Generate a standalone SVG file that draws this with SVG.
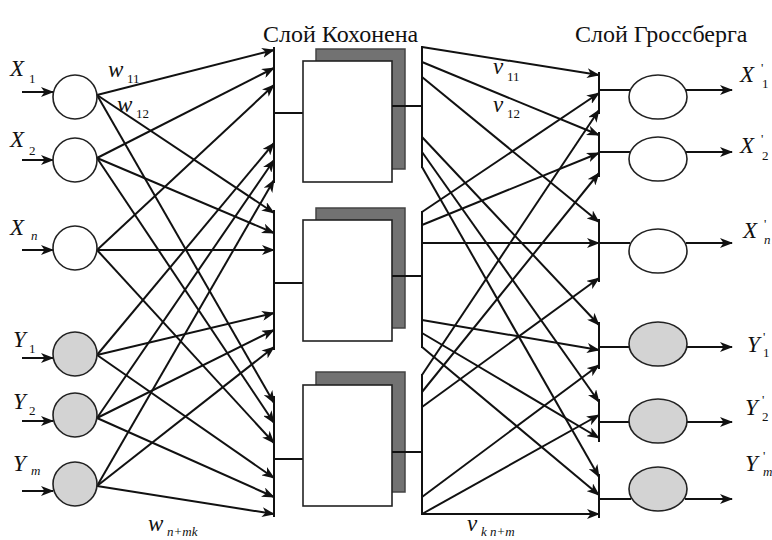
<svg xmlns="http://www.w3.org/2000/svg" width="772" height="540" viewBox="0 0 772 540">
<style>
.bg{fill:#ffffff}
.c{stroke:#111;stroke-width:2;fill:none}
.a{stroke:#111;stroke-width:2;fill:none;marker-end:url(#ah)}
.bus{stroke:#111;stroke-width:2;fill:none}
.nw{fill:#ffffff;stroke:#222;stroke-width:1.6}
.ng{fill:#d3d3d3;stroke:#222;stroke-width:1.6}
.sh{fill:#727272;stroke:#444;stroke-width:1.5}
.bx{fill:#ffffff;stroke:#222;stroke-width:1.6}
.v{font-family:"Liberation Serif",serif;font-style:italic;font-size:23px;fill:#111}
.s{font-family:"Liberation Serif",serif;font-size:13px;fill:#111}
.si{font-family:"Liberation Serif",serif;font-style:italic;font-size:13px;fill:#111}
.t{font-family:"Liberation Serif","Noto Serif",serif;font-size:24px;fill:#111}
</style>
<defs>
<marker id="ah" viewBox="0 0 13 10" refX="12" refY="5" markerWidth="13" markerHeight="10" markerUnits="userSpaceOnUse" orient="auto">
<path d="M0,0 L13,5 L0,10 L3.5,5 z" fill="#111"/>
</marker>
</defs>
<rect class="bg" x="0" y="0" width="772" height="540"/>

<text class="t" x="263" y="42">Слой Кохонена</text>
<text class="t" x="575" y="42">Слой Гроссберга</text>

<g id="connectors">
<!-- input arrows -->
<line class="a" x1="22" y1="92" x2="53" y2="92"/>
<line class="a" x1="22" y1="160" x2="53" y2="160"/>
<line class="a" x1="22" y1="250" x2="53" y2="250"/>
<line class="a" x1="22" y1="358" x2="53" y2="358"/>
<line class="a" x1="22" y1="421" x2="53" y2="421"/>
<line class="a" x1="22" y1="491" x2="53" y2="491"/>
<!-- input -> Kohonen 1 -->
<line class="a" x1="97" y1="95" x2="274" y2="50"/>
<line class="a" x1="97" y1="158" x2="274" y2="68"/>
<line class="a" x1="97" y1="250" x2="274" y2="85"/>
<line class="a" x1="97" y1="355" x2="274" y2="143"/>
<line class="a" x1="97" y1="418" x2="274" y2="160"/>
<line class="a" x1="97" y1="486" x2="274" y2="180"/>
<!-- input -> Kohonen 2 -->
<line class="a" x1="97" y1="95" x2="274" y2="213"/>
<line class="a" x1="97" y1="158" x2="274" y2="233"/>
<line class="a" x1="97" y1="250" x2="274" y2="250"/>
<line class="a" x1="97" y1="355" x2="274" y2="313"/>
<line class="a" x1="97" y1="418" x2="274" y2="330"/>
<line class="a" x1="97" y1="486" x2="274" y2="347"/>
<!-- input -> Kohonen 3 -->
<line class="a" x1="97" y1="95" x2="274" y2="403"/>
<line class="a" x1="97" y1="158" x2="274" y2="423"/>
<line class="a" x1="97" y1="250" x2="274" y2="443"/>
<line class="a" x1="97" y1="355" x2="274" y2="478"/>
<line class="a" x1="97" y1="418" x2="274" y2="497"/>
<line class="a" x1="97" y1="486" x2="274" y2="514"/>
<!-- Kohonen left buses -->
<line class="bus" x1="274" y1="47" x2="274" y2="183"/>
<line class="bus" x1="274" y1="210" x2="274" y2="350"/>
<line class="bus" x1="274" y1="396" x2="274" y2="517"/>
<line class="c" x1="274" y1="113" x2="303" y2="113"/>
<line class="c" x1="274" y1="283" x2="303" y2="283"/>
<line class="c" x1="274" y1="459" x2="303" y2="459"/>
<!-- Kohonen right buses -->
<line class="bus" x1="422" y1="46" x2="422" y2="168"/>
<line class="bus" x1="422" y1="211" x2="422" y2="348"/>
<line class="bus" x1="422" y1="374" x2="422" y2="515"/>
<!-- Kohonen 1 -> Grossberg -->
<line class="a" x1="422" y1="47" x2="599" y2="75"/>
<line class="a" x1="422" y1="62" x2="599" y2="135"/>
<line class="a" x1="422" y1="77" x2="599" y2="222"/>
<line class="a" x1="422" y1="137" x2="599" y2="325"/>
<line class="a" x1="422" y1="152" x2="599" y2="402"/>
<line class="a" x1="422" y1="167" x2="599" y2="477"/>
<!-- Kohonen 2 -> Grossberg -->
<line class="a" x1="422" y1="212" x2="599" y2="93"/>
<line class="a" x1="422" y1="225" x2="599" y2="153"/>
<line class="a" x1="422" y1="243" x2="599" y2="243"/>
<line class="a" x1="422" y1="320" x2="599" y2="350"/>
<line class="a" x1="422" y1="333" x2="599" y2="438"/>
<line class="a" x1="422" y1="347" x2="599" y2="495"/>
<!-- Kohonen 3 -> Grossberg -->
<line class="a" x1="422" y1="375" x2="599" y2="110"/>
<line class="a" x1="422" y1="392" x2="599" y2="173"/>
<line class="a" x1="422" y1="407" x2="599" y2="278"/>
<line class="a" x1="422" y1="497" x2="599" y2="365"/>
<line class="a" x1="422" y1="514" x2="599" y2="415"/>
<line class="a" x1="422" y1="514" x2="599" y2="514"/>
<!-- Grossberg buses -->
<line class="bus" x1="599" y1="72" x2="599" y2="114"/>
<line class="bus" x1="599" y1="132" x2="599" y2="177"/>
<line class="bus" x1="599" y1="219" x2="599" y2="282"/>
<line class="bus" x1="599" y1="322" x2="599" y2="369"/>
<line class="bus" x1="599" y1="399" x2="599" y2="442"/>
<line class="bus" x1="599" y1="474" x2="599" y2="518"/>
<line class="c" x1="599" y1="90" x2="631" y2="90"/>
<line class="c" x1="599" y1="152" x2="631" y2="152"/>
<line class="c" x1="599" y1="243" x2="630" y2="243"/>
<line class="c" x1="599" y1="347" x2="630" y2="347"/>
<line class="c" x1="599" y1="422" x2="629" y2="422"/>
<line class="c" x1="599" y1="499" x2="631" y2="499"/>
<!-- output arrows -->
<line class="a" x1="685" y1="90" x2="732" y2="90"/>
<line class="a" x1="685" y1="152" x2="732" y2="152"/>
<line class="a" x1="686" y1="243" x2="732" y2="243"/>
<line class="a" x1="686" y1="347" x2="732" y2="347"/>
<line class="a" x1="687" y1="422" x2="732" y2="422"/>
<line class="a" x1="685" y1="499" x2="732" y2="499"/>
</g>

<g id="in-x1"><circle class="nw" cx="75" cy="97" r="22"/><text class="v" x="10" y="76">X</text><text class="s" x="29" y="83">1</text></g>
<g id="in-x2"><circle class="nw" cx="75" cy="160" r="22"/><text class="v" x="10" y="147">X</text><text class="s" x="29" y="155">2</text></g>
<g id="in-xn"><circle class="nw" cx="75" cy="248" r="22"/><text class="v" x="10" y="235">X</text><text class="si" x="31" y="240">n</text></g>
<g id="in-y1"><circle class="ng" cx="75" cy="354" r="22"/><text class="v" x="13" y="347">Y</text><text class="s" x="29" y="353">1</text></g>
<g id="in-y2"><circle class="ng" cx="75" cy="415" r="22"/><text class="v" x="13" y="409">Y</text><text class="s" x="29" y="415">2</text></g>
<g id="in-ym"><circle class="ng" cx="75" cy="484" r="22"/><text class="v" x="13" y="471">Y</text><text class="si" x="31" y="475">m</text></g>

<g id="weights-w">
<text class="v" x="108" y="77">w</text><text class="s" x="127" y="83">11</text>
<text class="v" x="117" y="112">w</text><text class="s" x="136" y="118">12</text>
<text class="v" x="148" y="531">w</text><text class="si" x="167" y="536">n+mk</text>
</g>
<g id="weights-v">
<text class="v" x="493" y="74">v</text><text class="s" x="507" y="81">11</text>
<text class="v" x="493" y="112">v</text><text class="s" x="507" y="118">12</text>
<text class="v" x="467" y="531">v</text><text class="si" x="481" y="536">k n+m</text>
</g>

<g id="kohonen-1"><rect class="sh" x="316" y="49" width="89" height="120"/><rect class="bx" x="303" y="61" width="89" height="121"/><line class="c" x1="392" y1="106" x2="422" y2="106"/></g>
<g id="kohonen-2"><rect class="sh" x="316" y="208" width="89" height="120"/><rect class="bx" x="303" y="220" width="89" height="121"/><line class="c" x1="392" y1="276" x2="422" y2="276"/></g>
<g id="kohonen-3"><rect class="sh" x="316" y="372" width="89" height="120"/><rect class="bx" x="303" y="385" width="89" height="121"/><line class="c" x1="392" y1="452" x2="422" y2="452"/></g>

<g id="out-x1"><ellipse class="nw" cx="658" cy="97" rx="29" ry="22"/><text class="v" x="740" y="82">X</text><text class="s" x="761" y="72">'</text><text class="s" x="762" y="88">1</text></g>
<g id="out-x2"><ellipse class="nw" cx="658" cy="159" rx="29" ry="22"/><text class="v" x="740" y="153">X</text><text class="s" x="761" y="143">'</text><text class="s" x="762" y="160">2</text></g>
<g id="out-xn"><ellipse class="nw" cx="658" cy="251" rx="29" ry="22"/><text class="v" x="743" y="238">X</text><text class="s" x="764" y="228">'</text><text class="si" x="764" y="244">n</text></g>
<g id="out-y1"><ellipse class="ng" cx="658" cy="344" rx="29" ry="22"/><text class="v" x="747" y="352">Y</text><text class="s" x="763" y="341">'</text><text class="s" x="763" y="357">1</text></g>
<g id="out-y2"><ellipse class="ng" cx="658" cy="421" rx="29" ry="22"/><text class="v" x="745" y="415">Y</text><text class="s" x="762" y="404">'</text><text class="s" x="762" y="421">2</text></g>
<g id="out-ym"><ellipse class="ng" cx="658" cy="489" rx="29" ry="22"/><text class="v" x="745" y="471">Y</text><text class="s" x="763" y="460">'</text><text class="si" x="763" y="476">m</text></g>
</svg>
